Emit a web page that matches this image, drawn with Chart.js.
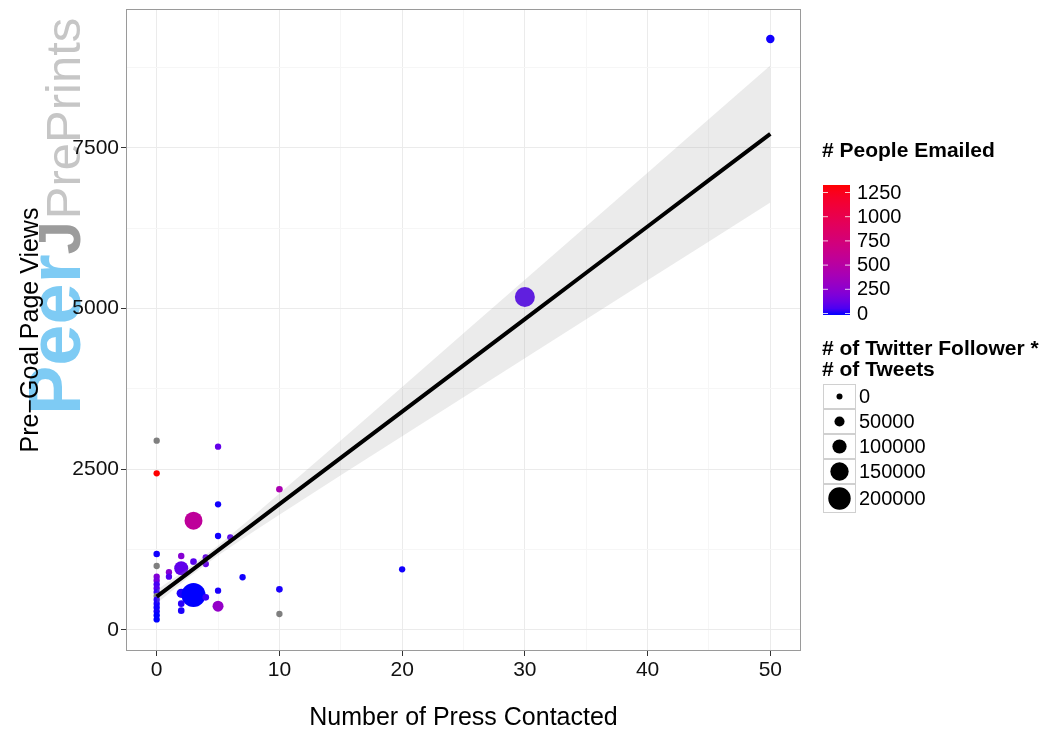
<!DOCTYPE html>
<html lang="en">
  <head>
    <meta charset="UTF-8" />
    <title>Pre-Goal Page Views vs Press Contacted</title>
  </head>
  <style>
    * {
      margin: 0;
      padding: 0;
    }
    body {
      background: white;
    }
  </style>
  <body>
    <canvas id="myChart" width="1042" height="734"></canvas>

    <script src="https://cdn.jsdelivr.net/npm/chart.js"></script>

    <script>
      // data block
      const pressContacted = [0, 5, 0, 10, 5, 3, 5, 6, 0, 2, 4, 3, 4, 0, 2, 1, 1, 7,
        0, 0, 0, 0, 0, 0, 0, 0, 0, 0, 0, 0,
        2, 3, 4, 5, 10, 5, 2, 2, 10, 20, 30, 50];
      const pageViews = [2945, 2852, 2438, 2189, 1955, 1700, 1462, 1442, 1182, 1151, 1131, 1063, 1027, 996, 960, 900, 830, 820,
        830, 770, 710, 650, 590, 530, 470, 410, 350, 290, 230, 165,
        571, 545, 508, 612, 633, 370, 300, 410, 249, 944, 5181, 9196];
      const peopleEmailed = [null, 120, 1320, 420, 5, 560, 5, 90, 5, 240, 120, 90, 120, null, 110, 240, 80, 5,
        220, 180, 60, 80, 30, null, 20, 10, 5, 5, 0, 0,
        10, 0, 40, 10, 10, 300, 10, 20, null, 5, 80, 5];
      const twitterReach = [4000, 4000, 4000, 8000, 4000, 146000, 4000, 4000, 6000, 6000, 4000, 8000, 4000, 4000, 98000, 4000, 4000, 4000,
        4000, 4000, 4000, 4000, 4000, 4000, 4000, 4000, 4000, 4000, 4000, 4000,
        40000, 220000, 8000, 4000, 8000, 61000, 8000, 8000, 4000, 4000, 171000, 30000];

      // linear fit and its confidence band
      const fitX = [0, 2.5, 5, 7.5, 10, 15, 20, 25, 30, 35, 40, 45, 50];
      const fitY = [518, 878, 1238, 1598, 1958, 2678, 3398, 4118, 4838, 5558, 6278, 6998, 7718];
      const fitUpper = [624, 952, 1316, 1713, 2122, 2950, 3782, 4615, 5448, 6282, 7116, 7950, 8784];
      const fitLower = [412, 804, 1160, 1483, 1794, 2406, 3014, 3621, 4228, 4834, 5440, 6046, 6652];

      // ticks
      const xMajor = [0, 10, 20, 30, 40, 50];
      const xMinor = [5, 15, 25, 35, 45];
      const yMajor = [0, 2500, 5000, 7500];
      const yMinor = [1250, 3750, 6250, 8750];
      const emailBreaks = [0, 250, 500, 750, 1000, 1250];
      const reachBreaks = [0, 50000, 100000, 150000, 200000];

      const FONT = "'Liberation Sans', Arial, sans-serif";
      const emailMax = Math.max(...peopleEmailed.filter(v => v !== null));

      // colour scale: blue -> red, interpolated in Lab like ggplot
      function hexToLab(hex) {
        const c = [1, 3, 5].map(i => parseInt(hex.substr(i, 2), 16) / 255)
          .map(v => v <= 0.04045 ? v / 12.92 : Math.pow((v + 0.055) / 1.055, 2.4));
        const X = (0.4124 * c[0] + 0.3576 * c[1] + 0.1805 * c[2]) / 0.95047;
        const Y = 0.2126 * c[0] + 0.7152 * c[1] + 0.0722 * c[2];
        const Z = (0.0193 * c[0] + 0.1192 * c[1] + 0.9505 * c[2]) / 1.08883;
        const f = t => t > 0.008856 ? Math.cbrt(t) : 7.787 * t + 16 / 116;
        return [116 * f(Y) - 16, 500 * (f(X) - f(Y)), 200 * (f(Y) - f(Z))];
      }
      function labToRgb(lab) {
        const fy = (lab[0] + 16) / 116, fx = fy + lab[1] / 500, fz = fy - lab[2] / 200;
        const inv = t => t > 0.206893 ? t * t * t : (t - 16 / 116) / 7.787;
        const X = inv(fx) * 0.95047, Y = inv(fy), Z = inv(fz) * 1.08883;
        const lin = [3.2406 * X - 1.5372 * Y - 0.4986 * Z,
          -0.9689 * X + 1.8758 * Y + 0.0415 * Z,
          0.0557 * X - 0.2040 * Y + 1.0570 * Z];
        return lin.map(v => {
          v = v <= 0.0031308 ? 12.92 * v : 1.055 * Math.pow(v, 1 / 2.4) - 0.055;
          return Math.round(Math.min(1, Math.max(0, v)) * 255);
        });
      }
      const lowLab = hexToLab("#0000ff");
      const highLab = hexToLab("#ff0000");
      function emailColour(v) {
        if (v === null) return "#7f7f7f";
        const t = Math.min(1, Math.max(0, v / emailMax));
        const rgb = labToRgb(lowLab.map((l, i) => l + (highLab[i] - l) * t));
        return `rgb(${rgb[0]}, ${rgb[1]}, ${rgb[2]})`;
      }
      function sizeOf(v) {
        return 3 + v * 4.1e-5;
      }

      const points = pressContacted.map((x, i) => ({ x: x, y: pageViews[i], r: sizeOf(twitterReach[i]) }));

      // panel border drawn on top, like theme_bw
      const panelBorder = {
        id: "panelBorder",
        afterDraw(chart) {
          const { ctx, chartArea: a } = chart;
          ctx.save();
          ctx.strokeStyle = "#9a9a9a";
          ctx.lineWidth = 1;
          ctx.strokeRect(a.left + 0.5, a.top + 0.5, a.right - a.left - 1, a.bottom - a.top - 1);
          ctx.restore();
        }
      };

      // PeerJ PrePrints watermark, under the axis title
      const watermark = {
        id: "watermark",
        beforeDraw(chart) {
          const ctx = chart.ctx;
          ctx.save();
          ctx.translate(80, 415);
          ctx.rotate(-Math.PI / 2);
          ctx.textBaseline = "alphabetic";
          ctx.textAlign = "left";
          ctx.font = `bold 74px ${FONT}`;
          ctx.fillStyle = "#7ecbf4";
          ctx.fillText("Peer", 0, 0);
          let x = ctx.measureText("Peer").width;
          ctx.font = `bold 60px ${FONT}`;
          ctx.fillStyle = "#9c9c9c";
          ctx.fillText("J", x, 0);
          x += ctx.measureText("J").width + 2;
          ctx.font = `49px ${FONT}`;
          ctx.fillStyle = "#c6c6c6";
          ctx.fillText("PrePrints", x, 0);
          ctx.restore();
        }
      };

      // legends: colour bar and size keys
      const legendPanel = {
        id: "legendPanel",
        afterDraw(chart) {
          const ctx = chart.ctx;
          ctx.save();
          ctx.fillStyle = "#000";
          ctx.textAlign = "left";
          ctx.textBaseline = "alphabetic";
          ctx.font = `bold 21px ${FONT}`;
          ctx.fillText("# People Emailed", 822, 157);

          const barL = 823, barW = 27, barTop = 185, barBottom = 315;
          const zeroY = 313, perUnit = (313 - 192) / 1250;
          const topVal = (zeroY - barTop) / perUnit;
          const grad = ctx.createLinearGradient(0, barBottom, 0, barTop);
          for (let s = 0; s <= 20; s++) {
            grad.addColorStop(s / 20, emailColour(Math.max(0, topVal * s / 20)));
          }
          ctx.fillStyle = grad;
          ctx.fillRect(barL, barTop, barW, barBottom - barTop);

          ctx.font = `20px ${FONT}`;
          ctx.textBaseline = "middle";
          emailBreaks.forEach(b => {
            const y = zeroY - b * perUnit;
            ctx.strokeStyle = "rgba(255,255,255,0.8)";
            ctx.lineWidth = 1;
            ctx.beginPath();
            ctx.moveTo(barL, y + 0.5); ctx.lineTo(barL + 5, y + 0.5);
            ctx.moveTo(barL + barW - 5, y + 0.5); ctx.lineTo(barL + barW, y + 0.5);
            ctx.stroke();
            ctx.fillStyle = "#000";
            ctx.fillText(String(b), 857, y + 1);
          });

          ctx.textBaseline = "alphabetic";
          ctx.font = `bold 21px ${FONT}`;
          ctx.fillText("# of Twitter Follower *", 822, 355);
          ctx.fillText("# of Tweets", 822, 376);

          const keyH = [25, 25, 25, 25, 29];
          let y = 384;
          ctx.font = `20px ${FONT}`;
          ctx.textBaseline = "middle";
          reachBreaks.forEach((b, i) => {
            ctx.fillStyle = "#fff";
            ctx.fillRect(823, y, 33, keyH[i]);
            ctx.strokeStyle = "#d0d0d0";
            ctx.strokeRect(823.5, y + 0.5, 32, keyH[i] - 1);
            const cy = y + keyH[i] / 2;
            ctx.fillStyle = "#000";
            ctx.beginPath();
            ctx.arc(839.5, cy, sizeOf(b), 0, Math.PI * 2);
            ctx.fill();
            ctx.fillText(String(b), 859, cy + 1);
            y += keyH[i];
          });
          ctx.restore();
        }
      };

      function gridColour(majors) {
        return c => c.tick && majors.includes(c.tick.value) ? "#ebebeb" : "#f6f6f6";
      }
      function tickColour(majors) {
        return c => c.tick && majors.includes(c.tick.value) ? "#333" : "rgba(0,0,0,0)";
      }

      // config block
      const config = {
        type: "scatter",
        data: {
          datasets: [
            {
              type: "bubble",
              data: points,
              backgroundColor: peopleEmailed.map(emailColour),
              borderWidth: 0,
              hoverRadius: 0,
              order: 3
            },
            {
              data: fitX.map((x, i) => ({ x: x, y: fitLower[i] })),
              showLine: true,
              pointRadius: 0,
              borderWidth: 0,
              fill: false,
              order: 2
            },
            {
              data: fitX.map((x, i) => ({ x: x, y: fitUpper[i] })),
              showLine: true,
              pointRadius: 0,
              borderWidth: 0,
              fill: "-1",
              backgroundColor: "rgba(153,153,153,0.2)",
              order: 2
            },
            {
              data: fitX.map((x, i) => ({ x: x, y: fitY[i] })),
              showLine: true,
              pointRadius: 0,
              borderColor: "#000",
              borderWidth: 4,
              order: 1
            }
          ]
        },
        options: {
          responsive: false,
          animation: false,
          layout: { autoPadding: false, padding: { top: 9, right: 241, bottom: 0, left: 0 } },
          plugins: {
            legend: { display: false },
            tooltip: { enabled: false }
          },
          scales: {
            x: {
              type: "linear",
              min: -2.5,
              max: 52.5,
              afterBuildTicks: s => { s.ticks = [...xMajor, ...xMinor].sort((a, b) => a - b).map(v => ({ value: v })); },
              afterFit: s => { s.height = 83; s.paddingLeft = 0; s.paddingRight = 0; },
              ticks: {
                callback: v => xMajor.includes(v) ? String(v) : "",
                color: "#111",
                padding: 2,
                maxRotation: 0,
                autoSkip: false,
                font: { family: FONT, size: 21 }
              },
              grid: { color: gridColour(xMajor), tickColor: tickColour(xMajor), tickLength: 5 },
              border: { display: false },
              title: {
                display: true,
                text: "Number of Press Contacted",
                color: "#000",
                padding: { top: 1, bottom: 1 },
                font: { family: FONT, size: 25 }
              }
            },
            y: {
              type: "linear",
              min: -327,
              max: 9662,
              afterBuildTicks: s => { s.ticks = [...yMajor, ...yMinor].sort((a, b) => a - b).map(v => ({ value: v })); },
              afterFit: s => { s.width = 126; s.paddingTop = 0; s.paddingBottom = 0; },
              ticks: {
                callback: v => yMajor.includes(v) ? String(v) : "",
                color: "#111",
                padding: 2,
                autoSkip: false,
                font: { family: FONT, size: 21 }
              },
              grid: { color: gridColour(yMajor), tickColor: tickColour(yMajor), tickLength: 5 },
              border: { display: false },
              title: {
                display: true,
                text: "Pre\u2212Goal Page Views",
                color: "#000",
                padding: { top: 16, bottom: 16 },
                font: { family: FONT, size: 25 }
              }
            }
          }
        },
        plugins: [watermark, panelBorder, legendPanel]
      };

      // init render block
      const myChart = new Chart(document.getElementById("myChart"), config);
    </script>
  </body>
</html>
